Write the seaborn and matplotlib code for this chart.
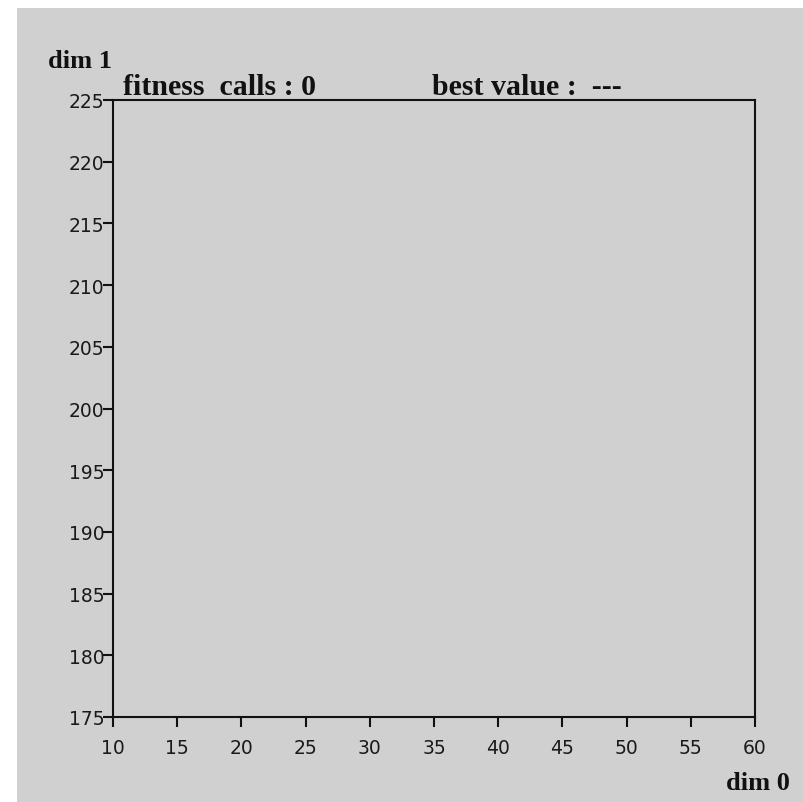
import matplotlib
matplotlib.use("Agg")
import matplotlib.pyplot as plt
import seaborn as sns
import pandas as pd
from matplotlib.patches import Rectangle

# Data (the chart shows an empty search space, no points yet)
points_dim0 = []
points_dim1 = []
x_ticks = [10, 15, 20, 25, 30, 35, 40, 45, 50, 55, 60]
y_ticks = [175, 180, 185, 190, 195, 200, 205, 210, 215, 220, 225]
fitness_calls = 0
best_value = "---"

sns.set_theme(style="ticks")
plt.rcParams['font.family'] = ['DejaVu Sans']

BG = "#d0d0d0"
fig = plt.figure(figsize=(8.04, 8.03), dpi=100, facecolor="white")
fig.patches.append(Rectangle((17 / 804, 0), 1, 1 - 9 / 803, transform=fig.transFigure,
                             facecolor=BG, edgecolor="none", zorder=-10))

ax = fig.add_axes([113 / 804, 1 - 718 / 803, (755 - 113) / 804, (718 - 101) / 803])
ax.set_facecolor(BG)

df = pd.DataFrame({"dim0": points_dim0, "dim1": points_dim1}, dtype=float)
sns.scatterplot(data=df, x="dim0", y="dim1", ax=ax)

ax.set_xlim(x_ticks[0], x_ticks[-1])
ax.set_ylim(y_ticks[0], y_ticks[-1])
ax.set_xticks(x_ticks)
ax.set_yticks(y_ticks)
ax.set_xlabel("")
ax.set_ylabel("")
for s in ax.spines.values():
    s.set_color("#111111")
    s.set_linewidth(1.5)
    s.set_visible(True)
ax.tick_params(axis="both", direction="out", length=7, width=1.5, color="#111111",
               labelsize=13.5, labelcolor="#1a1a1a")
ax.tick_params(axis="x", pad=8)
ax.tick_params(axis="y", pad=-1)

serif = dict(family="Liberation Serif", weight="bold", color="#111111")
fig.text(48 / 804, 1 - 68 / 803, "dim 1", fontsize=19, **serif)
fig.text(123 / 804, 1 - 95 / 803, f"fitness  calls : {fitness_calls}", fontsize=21.5, **serif)
fig.text(432 / 804, 1 - 95 / 803, f"best value :  {best_value}", fontsize=21.5, **serif)
fig.text(790 / 804, 1 - 790 / 803, "dim 0", fontsize=19, ha="right", **serif)

fig.savefig("out.png", dpi=100, facecolor="white")
